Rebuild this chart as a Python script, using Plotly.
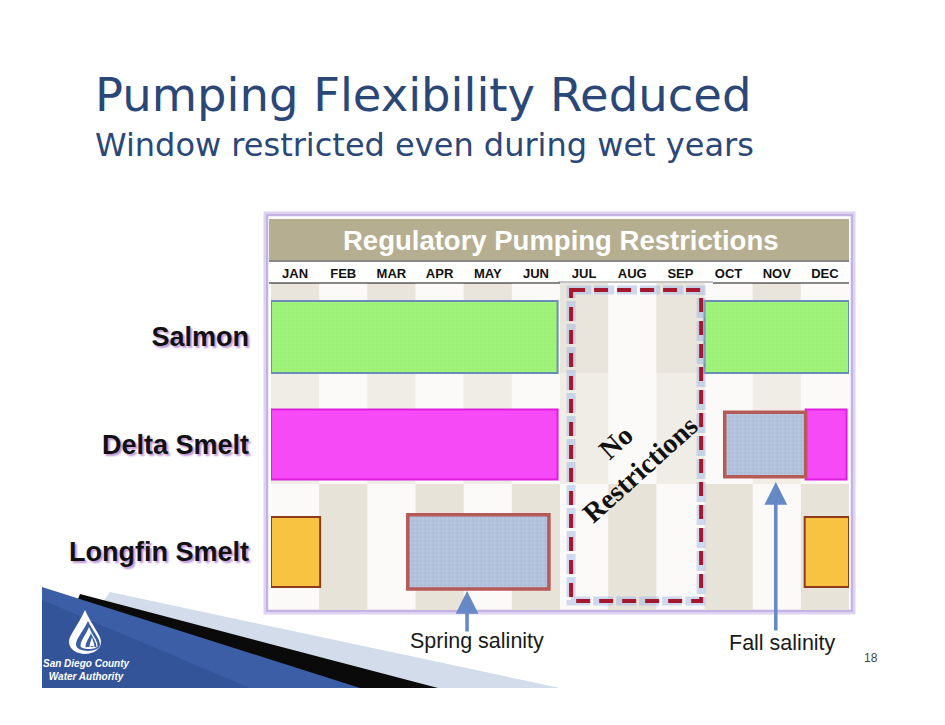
import plotly.graph_objects as go

# ---------------- data ----------------
species = ["Salmon", "Delta Smelt", "Longfin Smelt"]
months = ["JAN", "FEB", "MAR", "APR", "MAY", "JUN",
          "JUL", "AUG", "SEP", "OCT", "NOV", "DEC"]

# restriction periods in month units (0 = start of January)
salmon_start = [0.0, 9.0]
salmon_end = [5.95, 12.0]

delta_start = [0.0, 11.1]
delta_end = [5.95, 11.95]

longfin_start = [0.0, 11.08]
longfin_end = [1.02, 12.0]

salinity_species = ["Delta Smelt", "Longfin Smelt"]
salinity_start = [9.42, 2.84]
salinity_end = [11.1, 5.77]
salinity_labels = ["Fall salinity", "Spring salinity"]

no_restriction_start = 6.23
no_restriction_end = 8.93

W, H = 945, 725


def px(x):
    return x / W


def py(y):
    return 1 - y / H


Y_TOP, Y_BOT = -0.502, 2.54          # y range in category units (reversed)
BAND_SPLIT = 1.368                    # where the column shading alternates
LIGHT_SPLIT = 0.34

fig = go.Figure()


def add_bars(ys, starts, ends, fill, line, lw, width, pattern=None):
    fig.add_trace(go.Bar(
        orientation="h",
        y=ys,
        x=[e - s for s, e in zip(starts, ends)],
        base=starts,
        width=width,
        marker=dict(color=fill, line=dict(color=line, width=lw),
                    pattern=pattern if pattern else dict(shape="")),
        showlegend=False,
        hoverinfo="skip",
    ))


grid_pat = dict(shape="+", size=4, solidity=0.25, fgcolor="#8fa3c4", fgopacity=0.5)
green_pat = dict(shape="+", size=4, solidity=0.15, fgcolor="#7fd85a", fgopacity=0.5)

add_bars(["Salmon"] * len(salmon_start), salmon_start, salmon_end,
         "#a1f47c", "#6a8db8", 2, 0.67, green_pat)
add_bars(["Delta Smelt"] * len(delta_start), delta_start, delta_end,
         "#f74af7", "#e01ee0", 2, 0.65)
add_bars(["Longfin Smelt"] * len(longfin_start), longfin_start, longfin_end,
         "#f8c341", "#8e3b1c", 2, 0.65)
add_bars(salinity_species, salinity_start, salinity_end,
         "#b7c7df", "#b65a58", 3.5, [0.6, 0.69], grid_pat)

shapes = []
# column shading
for i in range(12):
    if i % 2 == 0:
        bands = [(Y_TOP, LIGHT_SPLIT, "#e9e5dc"), (LIGHT_SPLIT, BAND_SPLIT, "#efede6")]
    else:
        bands = [(BAND_SPLIT, Y_BOT, "#e7e3d9")]
    for y0, y1, col in bands:
        shapes.append(dict(type="rect", xref="x", yref="y", x0=i, x1=i + 1,
                           y0=y0, y1=y1, fillcolor=col, line=dict(width=0),
                           layer="below"))

# table frame (decoration)
shapes.append(dict(type="rect", xref="paper", yref="paper",
                   x0=px(266), x1=px(853), y0=py(612), y1=py(214),
                   line=dict(color="#ddd2f0", width=5), layer="below"))
shapes.append(dict(type="rect", xref="paper", yref="paper",
                   x0=px(267), x1=px(852), y0=py(611), y1=py(215),
                   line=dict(color="#c4b2e2", width=2), layer="below"))
# header band
shapes.append(dict(type="rect", xref="paper", yref="paper",
                   x0=px(269), x1=px(849), y0=py(260), y1=py(219),
                   fillcolor="#b6ae90", line=dict(width=0)))
# header row lines
shapes.append(dict(type="line", xref="paper", yref="paper",
                   x0=px(269), x1=px(849), y0=py(261), y1=py(261),
                   line=dict(color="#111", width=1.2)))
shapes.append(dict(type="line", xref="paper", yref="paper",
                   x0=px(269), x1=px(560), y0=py(283), y1=py(283),
                   line=dict(color="#111", width=1.2)))
shapes.append(dict(type="line", xref="paper", yref="paper",
                   x0=px(558), x1=px(713), y0=py(282), y1=py(282),
                   line=dict(color="#888", width=1)))
shapes.append(dict(type="line", xref="paper", yref="paper",
                   x0=px(713), x1=px(849), y0=py(283), y1=py(283),
                   line=dict(color="#111", width=1.2)))

# "no restrictions" dashed window (glow + dashes)
shapes.append(dict(type="rect", xref="x", yref="y",
                   x0=no_restriction_start, x1=no_restriction_end,
                   y0=-0.437, y1=2.456,
                   line=dict(color="rgba(150,178,228,0.45)", width=9, dash="20px,3px"),
                   layer="above"))
shapes.append(dict(type="rect", xref="x", yref="y",
                   x0=no_restriction_start, x1=no_restriction_end,
                   y0=-0.437, y1=2.456,
                   line=dict(color="#a3182f", width=4, dash="14px,9px"), layer="above"))


# ---- logo / footer decoration ----
def path(points, close=True):
    s = "M " + " L ".join(f"{px(x):.5f},{py(y):.5f}" for x, y in points)
    return s + (" Z" if close else "")


shapes.append(dict(type="path", xref="paper", yref="paper",
                   path=path([(110, 592), (560, 688), (42, 688)]),
                   fillcolor="#d3dcea", line=dict(width=0)))
shapes.append(dict(type="path", xref="paper", yref="paper",
                   path=path([(80, 594), (438, 688), (42, 688)]),
                   fillcolor="#0a0a0a", line=dict(width=0)))
shapes.append(dict(type="path", xref="paper", yref="paper",
                   path=path([(42, 587), (360, 688), (42, 688)]),
                   fillcolor="#3c5ea6", line=dict(width=0)))
shapes.append(dict(type="path", xref="paper", yref="paper",
                   path=path([(42, 600), (250, 688), (42, 688)]),
                   fillcolor="#34549a", line=dict(width=0)))


def cpath(cmds):
    out = []
    for c in cmds:
        letter, pts = c[0], c[1:]
        out.append(letter + " " + " ".join(f"{px(x):.5f},{py(y):.5f}" for x, y in pts))
    return " ".join(out) + " Z"


def drop(cx, top, bottom, half_w, color):
    mid = (top + bottom) / 2 + 6
    return dict(type="path", xref="paper", yref="paper",
                path=cpath([("M", (cx, top)),
                            ("C", (cx - half_w * 0.4, top + (mid - top) * 0.5),
                             (cx - half_w, mid - 4), (cx - half_w, mid + 2)),
                            ("C", (cx - half_w, bottom + 1), (cx + half_w, bottom + 1),
                             (cx + half_w, mid + 2)),
                            ("C", (cx + half_w, mid - 4), (cx + half_w * 0.4, top + (mid - top) * 0.5),
                             (cx, top))]),
                fillcolor=color, line=dict(width=0))


# water drop with swirl
shapes.append(drop(85, 610, 657, 16, "white"))
shapes.append(drop(88, 621, 652, 12, "#3a5ca4"))
shapes.append(drop(89, 627, 649, 8.5, "white"))
shapes.append(drop(91, 633, 646, 5.5, "#3a5ca4"))
shapes.append(drop(92, 637, 644, 2.5, "white"))

annotations = []
# title / subtitle
annotations.append(dict(text="Pumping Flexibility Reduced", xref="paper", yref="paper",
                        x=px(93), y=py(95), xanchor="left", yanchor="middle",
                        showarrow=False,
                        font=dict(family="DejaVu Sans", size=46.5, color="#2b4778")))
annotations.append(dict(text="Window restricted even during wet years", xref="paper", yref="paper",
                        x=px(93), y=py(145), xanchor="left", yanchor="middle",
                        showarrow=False,
                        font=dict(family="DejaVu Sans", size=32, color="#2b4778")))
# table title
annotations.append(dict(text="Regulatory Pumping Restrictions", xref="paper", yref="paper",
                        x=px(560), y=py(240), xanchor="center", yanchor="middle",
                        showarrow=False,
                        font=dict(family="Liberation Sans", size=27.5, color="white", weight=700)))
# no restrictions text
annotations.append(dict(text="No<br>Restrictions", xref="x", yref="y",
                        x=7.41, y=1.10, textangle=-42, showarrow=False,
                        font=dict(family="Liberation Serif", size=28, color="#111", weight=700)))
# salinity arrows and labels
arrow_tail_y = [2.745, 2.754]
arrow_x = [10.48, 4.07]
arrow_head_y = [1.349, 2.363]
label_px = [(782, 643), (477, 641)]
for lab, xa, yh, yt, (lx, ly) in zip(salinity_labels, arrow_x, arrow_head_y, arrow_tail_y, label_px):
    annotations.append(dict(text="", xref="x", yref="y", axref="x", ayref="y",
                            x=xa, y=yh, ax=xa, ay=yt, showarrow=True,
                            arrowhead=2, arrowsize=1.3, arrowwidth=3.5, arrowcolor="#6688c4"))
    annotations.append(dict(text=lab, xref="paper", yref="paper",
                            x=px(lx), y=py(ly), xanchor="center", yanchor="middle",
                            showarrow=False,
                            font=dict(family="Liberation Sans", size=21.5, color="#1a1a1a")))
# page number
annotations.append(dict(text="18", xref="paper", yref="paper", x=px(880), y=py(667),
                        showarrow=False, font=dict(family="Liberation Sans", size=12, color="#444")))
# logo text
annotations.append(dict(text="<i>San Diego County<br>Water Authority</i>", xref="paper", yref="paper",
                        x=px(86), y=py(670), xanchor="center", yanchor="middle",
                        showarrow=False,
                        font=dict(family="Liberation Sans", size=10, color="white", weight=700)))

fig.update_layout(
    width=W, height=H,
    margin=dict(l=0, r=0, t=0, b=0),
    paper_bgcolor="white", plot_bgcolor="#fbfaf8",
    barmode="overlay",
    showlegend=False,
    shapes=shapes,
    annotations=annotations,
    xaxis=dict(domain=[px(271), px(849)], range=[0, 12], side="top",
               tickvals=[i + 0.5 for i in range(12)], ticktext=months,
               ticks="", showgrid=False, zeroline=False, showline=False,
               ticklabelstandoff=1,
               tickfont=dict(family="Liberation Sans", size=13, color="#111", weight=700)),
    yaxis=dict(domain=[py(610), py(283)], type="category",
               categoryorder="array", categoryarray=species,
               range=[Y_BOT, Y_TOP], ticks="", showgrid=False, zeroline=False,
               showline=False, ticklabelstandoff=21,
               tickfont=dict(family="Liberation Sans", size=27, color="#111", weight=700,
                             shadow="2px 2px 2px rgba(175,120,200,0.8)")),
)

fig.write_html("out.html", config={"displayModeBar": False},
               post_script="document.body.style.margin='0px';")
